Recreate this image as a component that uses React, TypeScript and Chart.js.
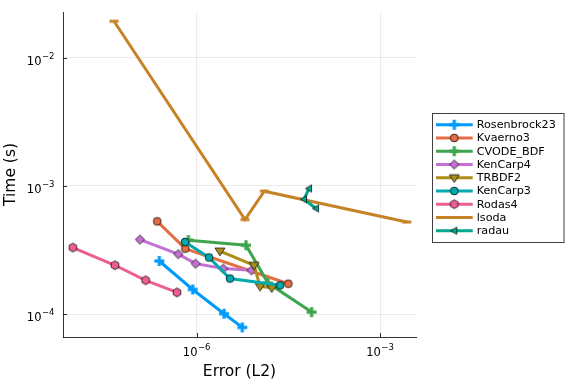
import React, { useEffect, useRef } from 'react';
import { Chart, registerables } from 'chart.js';
Chart.register(...registerables);

const seriesNames = ['Rosenbrock23', 'Kvaerno3', 'CVODE_BDF', 'KenCarp4', 'TRBDF2', 'KenCarp3', 'Rodas4', 'lsoda', 'radau'];
const seriesColors = ['#009AFA', '#E36F47', '#3EA44E', '#C371D2', '#AC8E18', '#00AAAE', '#ED5E93', '#C68225', '#00A98D'];
const seriesMarkers = ['plus', 'circle', 'plus', 'diamond', 'tridown', 'circle', 'hexagon', 'hline', 'trileft'];

const rosenbrock23Err = [2.44e-7, 8.6e-7, 2.8e-6, 5.57e-6];
const rosenbrock23Time = [2.6e-4, 1.56e-4, 1.01e-4, 7.9e-5];
const kvaerno3Err = [2.26e-7, 6.5e-7, 3.16e-5];
const kvaerno3Time = [5.3e-4, 3.25e-4, 1.73e-4];
const cvodeBdfErr = [7.3e-7, 6.4e-6, 1.47e-5, 7.6e-5];
const cvodeBdfTime = [3.78e-4, 3.45e-4, 1.75e-4, 1.04e-4];
const kenCarp4Err = [1.18e-7, 5.0e-7, 9.6e-7, 2.72e-6, 7.9e-6];
const kenCarp4Time = [3.82e-4, 2.94e-4, 2.48e-4, 2.27e-4, 2.2e-4];
const trbdf2Err = [2.4e-6, 8.7e-6, 1.09e-5, 1.69e-5];
const trbdf2Time = [3.11e-4, 2.41e-4, 1.65e-4, 1.61e-4];
const kenCarp3Err = [6.44e-7, 1.59e-6, 3.5e-6, 2.31e-5];
const kenCarp3Time = [3.66e-4, 2.77e-4, 1.9e-4, 1.68e-4];
const rodas4Err = [9.4e-9, 4.6e-8, 1.46e-7, 4.76e-7];
const rodas4Time = [3.31e-4, 2.41e-4, 1.84e-4, 1.48e-4];
const lsodaErr = [4.44e-8, 6.17e-6, 1.28e-5, 2.74e-3];
const lsodaTime = [1.92e-2, 5.47e-4, 9.1e-4, 5.24e-4];
const radauErr = [6.89e-5, 5.7e-5, 8.97e-5];
const radauTime = [9.55e-4, 7.87e-4, 6.67e-4];

const xTickExps = [-6, -3];
const yTickExps = [-2, -3, -4];
const xTitle = 'Error (L2)';
const yTitle = 'Time (s)';

const FONT = '"DejaVu Sans", sans-serif';

function makeMarker(shape: string, fill: string): HTMLCanvasElement {
  const size = 14;
  const c = document.createElement('canvas');
  c.width = size;
  c.height = size;
  const g = c.getContext('2d')!;
  const m = size / 2;
  g.fillStyle = fill;
  g.strokeStyle = 'rgba(0,0,0,0.9)';
  g.lineWidth = 0.8;
  g.beginPath();
  if (shape === 'plus') {
    g.fillRect(m - 5, m - 1.6, 10, 3.2);
    g.fillRect(m - 1.6, m - 5, 3.2, 10);
    return c;
  }
  if (shape === 'hline') {
    g.fillRect(m - 4.5, m - 1.5, 9, 3);
    return c;
  }
  if (shape === 'circle') {
    g.arc(m, m, 3.9, 0, Math.PI * 2);
  } else if (shape === 'diamond') {
    const r = 4.6;
    g.moveTo(m, m - r);
    g.lineTo(m + r, m);
    g.lineTo(m, m + r);
    g.lineTo(m - r, m);
  } else if (shape === 'tridown') {
    const r = 5;
    g.moveTo(m - r, m - r * 0.6);
    g.lineTo(m + r, m - r * 0.6);
    g.lineTo(m, m + r * 0.95);
  } else if (shape === 'trileft') {
    const r = 3.6;
    g.moveTo(m - r, m);
    g.lineTo(m + r * 0.7, m - r);
    g.lineTo(m + r * 0.7, m + r);
  } else if (shape === 'hexagon') {
    const r = 4.4;
    for (let k = 0; k < 6; k++) {
      const a = Math.PI / 2 + (k * Math.PI) / 3;
      const px = m + r * Math.cos(a);
      const py = m + r * Math.sin(a);
      if (k === 0) g.moveTo(px, py);
      else g.lineTo(px, py);
    }
  }
  g.closePath();
  g.fill();
  g.stroke();
  return c;
}

function drawPow(ctx: CanvasRenderingContext2D, exp: number, x: number, yBase: number, align: 'center' | 'right', raise: number) {
  const base = '10';
  const sup = '\u2212' + Math.abs(exp);
  ctx.font = `11.5px ${FONT}`;
  const wb = ctx.measureText(base).width;
  ctx.font = `8.5px ${FONT}`;
  const ws = ctx.measureText(sup).width;
  const total = wb + ws + 0.5;
  const left = align === 'center' ? x - total / 2 : x - total;
  ctx.textAlign = 'left';
  ctx.textBaseline = 'alphabetic';
  ctx.font = `11.5px ${FONT}`;
  ctx.fillText(base, left, yBase);
  ctx.font = `8.5px ${FONT}`;
  ctx.fillText(sup, left + wb + 0.5, yBase - raise);
}

export default function App() {
  const ref = useRef<HTMLCanvasElement>(null);
  useEffect(() => {
    const canvas = ref.current!;
    const errs = [rosenbrock23Err, kvaerno3Err, cvodeBdfErr, kenCarp4Err, trbdf2Err, kenCarp3Err, rodas4Err, lsodaErr, radauErr];
    const times = [rosenbrock23Time, kvaerno3Time, cvodeBdfTime, kenCarp4Time, trbdf2Time, kenCarp3Time, rodas4Time, lsodaTime, radauTime];
    const markers = seriesMarkers.map((s, i) => makeMarker(s, seriesColors[i]));
    const n = seriesNames.length;

    const datasets = seriesNames.map((name, i) => ({
      label: name,
      data: errs[i].map((x, j) => ({ x, y: times[i][j] })),
      borderColor: seriesColors[i],
      backgroundColor: seriesColors[i],
      borderWidth: 3,
      pointStyle: markers[i] as any,
      pointRadius: 5,
      pointHoverRadius: 5,
      showLine: true,
      fill: false,
      tension: 0,
      order: n - i,
    }));

    const overlay = {
      id: 'overlay',
      afterDraw(chart: any) {
        const ctx: CanvasRenderingContext2D = chart.ctx;
        const xs = chart.scales.x;
        const ys = chart.scales.y;
        const a = chart.chartArea;
        ctx.save();
        // inward tick marks
        ctx.strokeStyle = 'rgba(0,0,0,0.8)';
        ctx.lineWidth = 1;
        ctx.beginPath();
        xTickExps.forEach((e) => {
          const px = Math.round(xs.getPixelForValue(Math.pow(10, e))) + 0.5;
          ctx.moveTo(px, a.bottom);
          ctx.lineTo(px, a.bottom - 4);
        });
        yTickExps.forEach((e) => {
          const py = Math.round(ys.getPixelForValue(Math.pow(10, e))) + 0.5;
          ctx.moveTo(a.left, py);
          ctx.lineTo(a.left + 4, py);
        });
        ctx.stroke();
        // tick labels
        ctx.fillStyle = '#000';
        xTickExps.forEach((e) => {
          const px = xs.getPixelForValue(Math.pow(10, e));
          drawPow(ctx, e, px, a.bottom + 19, 'center', 6.5);
        });
        yTickExps.forEach((e) => {
          const py = ys.getPixelForValue(Math.pow(10, e));
          drawPow(ctx, e, a.left - 8.5, py + 7, 'right', 6);
        });
        // axis titles
        ctx.font = `15.5px ${FONT}`;
        ctx.textAlign = 'center';
        ctx.textBaseline = 'middle';
        ctx.fillText(xTitle, (a.left + a.right) / 2, 372);
        ctx.save();
        ctx.translate(11, (a.top + a.bottom) / 2);
        ctx.rotate(-Math.PI / 2);
        ctx.fillText(yTitle, 0, 0);
        ctx.restore();
        // legend
        const bx = 432.5, by = 113.5, bw = 131.5, bh = 129;
        ctx.fillStyle = '#fff';
        ctx.fillRect(bx, by, bw, bh);
        ctx.strokeStyle = 'rgba(0,0,0,0.75)';
        ctx.lineWidth = 1;
        ctx.strokeRect(bx, by, bw, bh);
        seriesNames.forEach((name, i) => {
          const y = 124.7 + i * 13.25;
          ctx.strokeStyle = seriesColors[i];
          ctx.lineWidth = 3;
          ctx.beginPath();
          ctx.moveTo(436, y);
          ctx.lineTo(472.7, y);
          ctx.stroke();
          if (seriesMarkers[i] !== 'hline') {
            const mk = markers[i];
            ctx.drawImage(mk, 454.3 - mk.width / 2, y - mk.height / 2);
          }
          ctx.fillStyle = '#000';
          ctx.font = `11.2px ${FONT}`;
          ctx.textAlign = 'left';
          ctx.textBaseline = 'middle';
          ctx.fillText(name, 476.7, y + 0.5);
        });
        ctx.restore();
      },
    };

    const chart = new Chart(canvas, {
      type: 'scatter',
      data: { datasets: datasets as any },
      options: {
        animation: false,
        responsive: false,
        layout: { padding: { left: 63, top: 12, right: 160, bottom: 47 } },
        plugins: { legend: { display: false }, tooltip: { enabled: false } },
        events: [],
        scales: {
          x: {
            type: 'logarithmic',
            min: Math.pow(10, -8.188),
            max: Math.pow(10, -2.411),
            afterBuildTicks: (s: any) => {
              s.ticks = xTickExps.map((e) => ({ value: Math.pow(10, e) }));
            },
            ticks: { display: false },
            grid: { drawTicks: false, color: 'rgba(0,0,0,0.08)', lineWidth: 1 },
            border: { display: true, color: 'rgba(0,0,0,0.8)', width: 1 },
          },
          y: {
            type: 'logarithmic',
            min: Math.pow(10, -4.177),
            max: Math.pow(10, -1.645),
            afterBuildTicks: (s: any) => {
              s.ticks = yTickExps.map((e) => ({ value: Math.pow(10, e) }));
            },
            ticks: { display: false },
            grid: { drawTicks: false, color: 'rgba(0,0,0,0.08)', lineWidth: 1 },
            border: { display: true, color: 'rgba(0,0,0,0.8)', width: 1 },
          },
        },
      },
      plugins: [overlay],
    });
    return () => chart.destroy();
  }, []);

  return (
    <div style={{ position: 'fixed', left: 0, top: 0, width: 576, height: 384, background: '#fff' }}>
      <canvas ref={ref} width={576} height={384} />
    </div>
  );
}
